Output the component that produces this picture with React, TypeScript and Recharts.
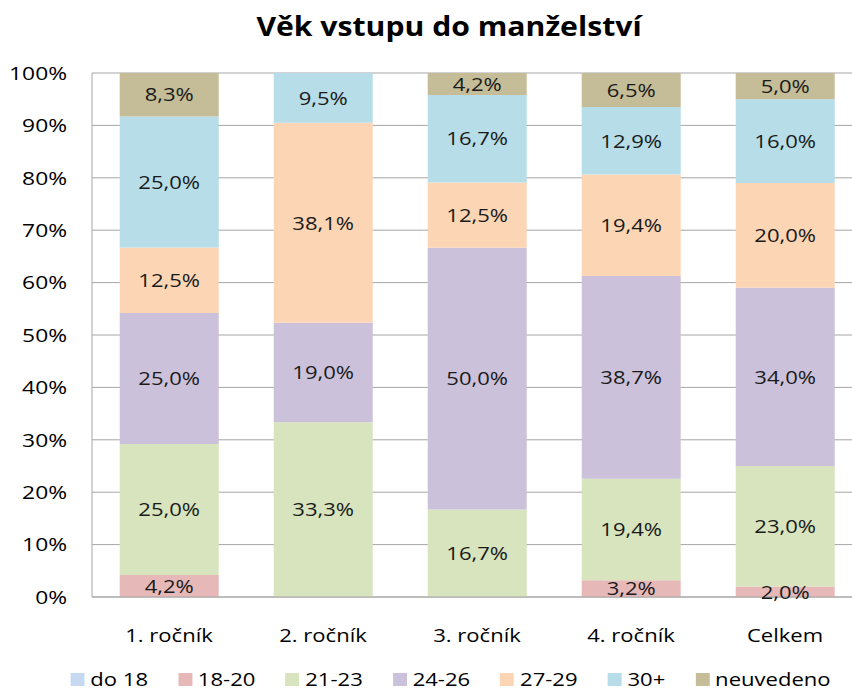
import React from "react";
import { BarChart, Bar, XAxis, YAxis, CartesianGrid, Legend, LabelList } from "recharts";

const categories = ["1. ročník", "2. ročník", "3. ročník", "4. ročník", "Celkem"];

const do18 = [0, 0, 0, 0, 0];
const v18_20 = [4.2, 0, 0, 3.2, 2.0];
const v21_23 = [25.0, 33.3, 16.7, 19.4, 23.0];
const v24_26 = [25.0, 19.0, 50.0, 38.7, 34.0];
const v27_29 = [12.5, 38.1, 12.5, 19.4, 20.0];
const v30plus = [25.0, 9.5, 16.7, 12.9, 16.0];
const neuvedeno = [8.3, 0, 4.2, 6.5, 5.0];

const yTicks = [0, 0.1, 0.2, 0.3, 0.4, 0.5, 0.6, 0.7, 0.8, 0.9, 1];

const series = [
    { key: "do 18", values: do18, color: "#C6D9F1" },
    { key: "18-20", values: v18_20, color: "#E6B9B8" },
    { key: "21-23", values: v21_23, color: "#D7E4BD" },
    { key: "24-26", values: v24_26, color: "#CCC1DA" },
    { key: "27-29", values: v27_29, color: "#FCD5B5" },
    { key: "30+", values: v30plus, color: "#B7DEE8" },
    { key: "neuvedeno", values: neuvedeno, color: "#C4BD97" },
];

const data = categories.map((name, i) => {
    const row: Record<string, string | number> = { name };
    series.forEach(s => { row[s.key] = s.values[i]; });
    return row;
});

// the original (Calibri) looks stretched sideways, so text gets a horizontal scale
const FONT = "'Open Sans', sans-serif";
const SX = 1.16;
const FS = 19;

const fmt = (v: any) => `${Number(v).toFixed(1).replace(".", ",")}%`;

const XTick = ({ x, y, payload }: any) => (
    <g transform={`translate(${x},${y})`}>
        <text transform={`scale(${SX},1)`} textAnchor="middle" dy="0.71em" fill="#000" fontFamily={FONT} fontSize={FS}>
            {payload.value}
        </text>
    </g>
);

const YTick = ({ x, y, payload }: any) => (
    <g transform={`translate(${x},${y})`}>
        <text transform={`scale(${SX + 0.04},1)`} textAnchor="end" dy="0.355em" fill="#000" fontFamily={FONT} fontSize={FS}>
            {`${Math.round(payload.value * 100)}%`}
        </text>
    </g>
);

const SegLabel = ({ x, y, width, height, value }: any) => {
    if (!value) return null;
    const cx = x + width / 2;
    const cy = y + height / 2;
    return (
        <g transform={`translate(${cx},${cy})`}>
            <text transform={`scale(${SX},1)`} textAnchor="middle" dy="0.355em" fill="#1a1a1a" fontFamily={FONT} fontSize={FS}>
                {fmt(value)}
            </text>
        </g>
    );
};

const renderLegend = () => (
    <div style={{ width: 852, display: "flex", justifyContent: "center" }}>
        <div style={{
            display: "flex", alignItems: "center", gap: 26, fontFamily: FONT, fontSize: FS,
            lineHeight: "22px", color: "#000", transform: `scaleX(${SX})`, marginLeft: 50,
        }}>
            {series.map(s => (
                <div key={s.key} style={{ display: "flex", alignItems: "center" }}>
                    <span style={{ width: 12, height: 13, background: s.color, display: "inline-block", marginRight: 5 }} />
                    <span>{s.key}</span>
                </div>
            ))}
        </div>
    </div>
);

export default function App() {
    return (
        <div style={{ position: "absolute", left: 0, top: 0, width: 852, height: 693, overflow: "hidden", background: "#fff" }}>
            <div style={{
                position: "absolute", top: 8, left: 449, transform: `translateX(-50%) scaleX(${SX})`,
                fontFamily: FONT, fontWeight: 700, fontSize: 26, whiteSpace: "nowrap",
            }}>
                Věk vstupu do manželství
            </div>
            <BarChart
                width={862}
                height={693}
                data={data}
                stackOffset="expand"
                barCategoryGap="18%"
                margin={{ top: 73, right: 0, left: 0, bottom: 2 }}
            >
                <CartesianGrid vertical={false} stroke="#A6A6A6" />
                <XAxis dataKey="name" height={72} tickLine={false} tickMargin={26} stroke="#A6A6A6" tick={<XTick />} />
                <YAxis
                    width={92}
                    domain={[0, 1]}
                    ticks={yTicks}
                    tickLine={false}
                    tickMargin={19}
                    stroke="#A6A6A6"
                    tick={<YTick />}
                />
                <Legend
                    verticalAlign="bottom"
                    height={22}
                    content={renderLegend}
                    wrapperStyle={{ left: 0, width: 852, bottom: 3 }}
                />
                {series.map(s => (
                    <Bar key={s.key} dataKey={s.key} stackId="a" fill={s.color} isAnimationActive={false}>
                        <LabelList dataKey={s.key} content={<SegLabel />} />
                    </Bar>
                ))}
            </BarChart>
        </div>
    );
}
